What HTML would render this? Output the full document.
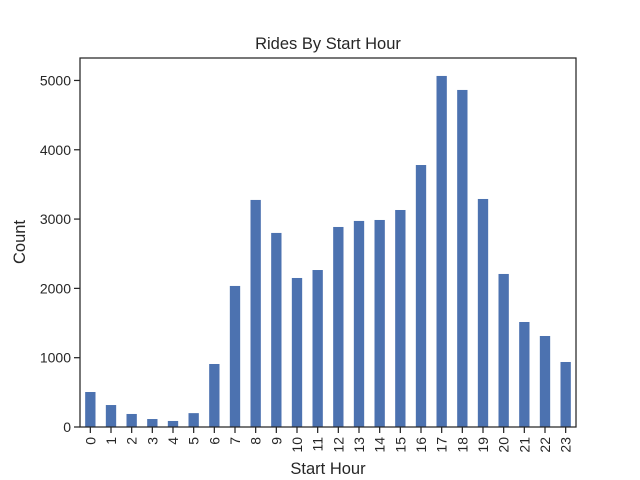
<!DOCTYPE html>
<html><head><meta charset="utf-8"><style>
body{margin:0;background:#fff}
svg{display:block;font-family:"Liberation Sans",Arial,sans-serif}
</style></head><body>
<svg id="chart" width="640" height="480">
<rect width="640" height="480" fill="#fff"/>
<text x="328" y="49" text-anchor="middle" font-size="16.5" fill="#262626">Rides By Start Hour</text>
<text x="328" y="474" text-anchor="middle" font-size="16.5" fill="#262626">Start Hour</text>
<text transform="translate(25,242) rotate(-90)" text-anchor="middle" font-size="16.5" fill="#262626">Count</text>
<g id="bars"></g><g id="xticks"></g><g id="yticks"></g>
<rect x="80" y="58" width="496" height="369" fill="none" stroke="#262626" stroke-width="1.25"/>
</svg>
<script>
const categories = ["0","1","2","3","4","5","6","7","8","9","10","11","12","13","14","15","16","17","18","19","20","21","22","23"];
const counts = [505,317,188,115,87,200,909,2035,3276,2800,2150,2265,2886,2973,2987,3131,3780,5065,4863,3290,2208,1515,1313,938];
const yTicks = [0,1000,2000,3000,4000,5000];
const NS="http://www.w3.org/2000/svg";
const L=80,R=576,T=58,B=427,YMAX=5324;
const xs=i=>L+(i+0.5)*(R-L)/categories.length;
const ys=v=>B-v/YMAX*(B-T);
const bw=0.5*(R-L)/categories.length;
const bars=document.getElementById('bars'),xt=document.getElementById('xticks'),yt=document.getElementById('yticks');
counts.forEach((v,i)=>{
 const r=document.createElementNS(NS,'rect');
 r.setAttribute('x',xs(i)-bw/2);r.setAttribute('y',ys(v));r.setAttribute('width',bw);r.setAttribute('height',B-ys(v));r.setAttribute('fill','#4c72b0');
 
 
 bars.appendChild(r);
 const tk=document.createElementNS(NS,'line');
 tk.setAttribute('x1',xs(i));tk.setAttribute('x2',xs(i));tk.setAttribute('y1',B);tk.setAttribute('y2',B+6);tk.setAttribute('stroke','#262626');tk.setAttribute('stroke-width','1.25');
 
 
 xt.appendChild(tk);
 const t=document.createElementNS(NS,'text');
 t.setAttribute('transform','translate('+(xs(i)+5)+','+(B+10)+') rotate(-90)');
 t.setAttribute('text-anchor','end');t.setAttribute('font-size','14');t.setAttribute('fill','#262626');
 t.textContent=categories[i];
 
 
 xt.appendChild(t);
});
yTicks.forEach(v=>{
 const tk=document.createElementNS(NS,'line');
 tk.setAttribute('x1',L-6);tk.setAttribute('x2',L);tk.setAttribute('y1',ys(v));tk.setAttribute('y2',ys(v));tk.setAttribute('stroke','#262626');tk.setAttribute('stroke-width','1.25');
 
 
 yt.appendChild(tk);
 const t=document.createElementNS(NS,'text');
 t.setAttribute('x',L-9);t.setAttribute('y',ys(v)+5);t.setAttribute('text-anchor','end');t.setAttribute('font-size','14');t.setAttribute('fill','#262626');
 t.textContent=v;
 
 
 yt.appendChild(t);
});
</script>
</body></html>
